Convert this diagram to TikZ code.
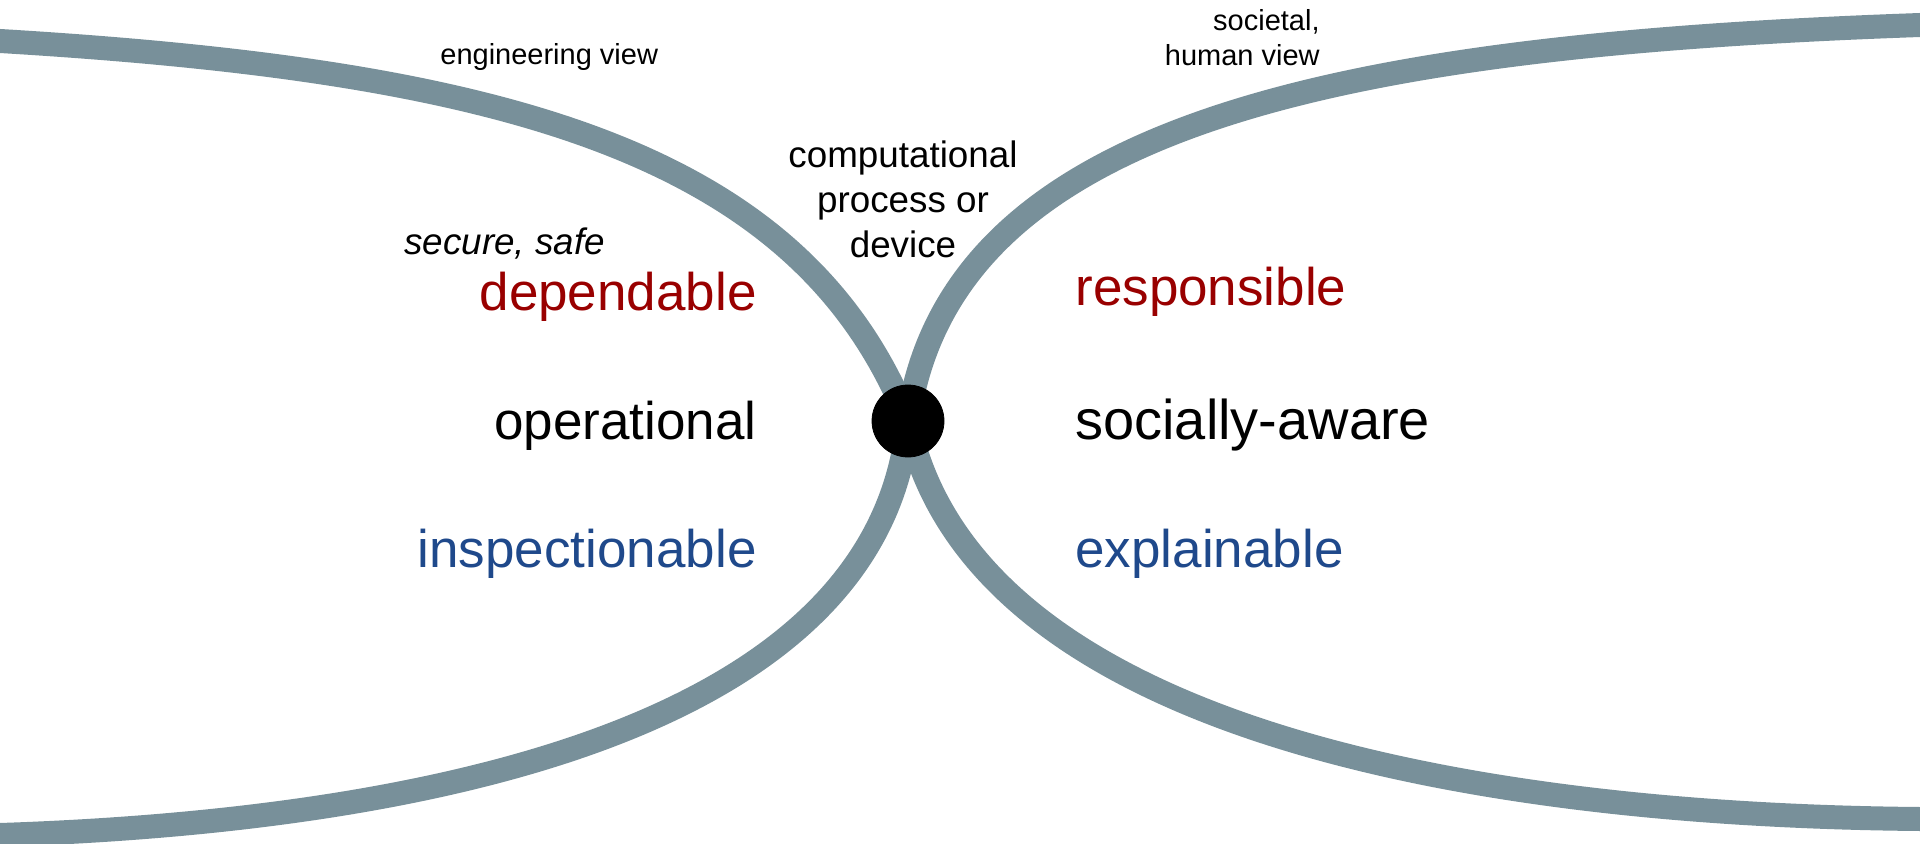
\documentclass[tikz,border=0pt]{standalone}
\usepackage{fontspec}
\setmainfont{Liberation Sans}
\definecolor{strandgray}{RGB}{120,144,154}
\definecolor{viewred}{RGB}{153,0,0}
\definecolor{viewblue}{RGB}{31,73,139}
\begin{document}
\begin{tikzpicture}[x=0.5pt,y=-0.5pt,
	strand/.style={line width=12pt,color=strandgray,line join=round},
	hubdot/.style={circle,fill=black,draw=black,inner sep=0pt,minimum size=36pt},
	big/.style={inner sep=0pt,font=\fontsize{26.5}{31}\selectfont},
	mid/.style={inner sep=0pt,font=\fontsize{18.4}{22.5}\selectfont},
	small/.style={inner sep=0pt,font=\fontsize{14.5}{17.5}\selectfont}]
	\useasboundingbox (0,0) rectangle (1920,844);
	\clip (0,0) rectangle (1920,844);
	\coordinate (hub) at (908,421);
	% engineering side
	\draw[strand] (-40,39) -- (0,41) .. controls (500,71) and (800,150) .. (hub)
		.. controls (880,720) and (450,820) .. (0,835) -- (-40,836);
	% societal side
	\draw[strand] (1960,24) -- (1920,25) .. controls (1350,45) and (950,120) .. (hub)
		.. controls (970,720) and (1450,815) .. (1920,819) -- (1960,819);
	\node[hubdot] (device) at (hub) {};
	% labels
	\node[small,anchor=base west] (engview) at (440,65) {engineering view};
	\node[small,anchor=north east,align=right] (socview) at (1320,9) {societal,\\human view};
	\node[mid,anchor=north,align=center] (proc) at (903,140) {computational\\process or\\device};
	\node[mid,anchor=base west] (secure) at (404,255) {\itshape secure, safe};
	\node[big,anchor=base east,text=viewred] (dependable) at (757,311) {dependable};
	\node[big,anchor=base east] (operational) at (757,439) {operational};
	\node[big,anchor=base east,text=viewblue] (inspectionable) at (757,567) {inspectionable};
	\node[big,anchor=base west,text=viewred] (responsible) at (1075,306) {responsible};
	\node[big,anchor=base west,font=\fontsize{28}{33}\selectfont] (aware) at (1075,439) {socially-aware};
	\node[big,anchor=base west,text=viewblue] (explainable) at (1075,567) {explainable};
\end{tikzpicture}
\end{document}
